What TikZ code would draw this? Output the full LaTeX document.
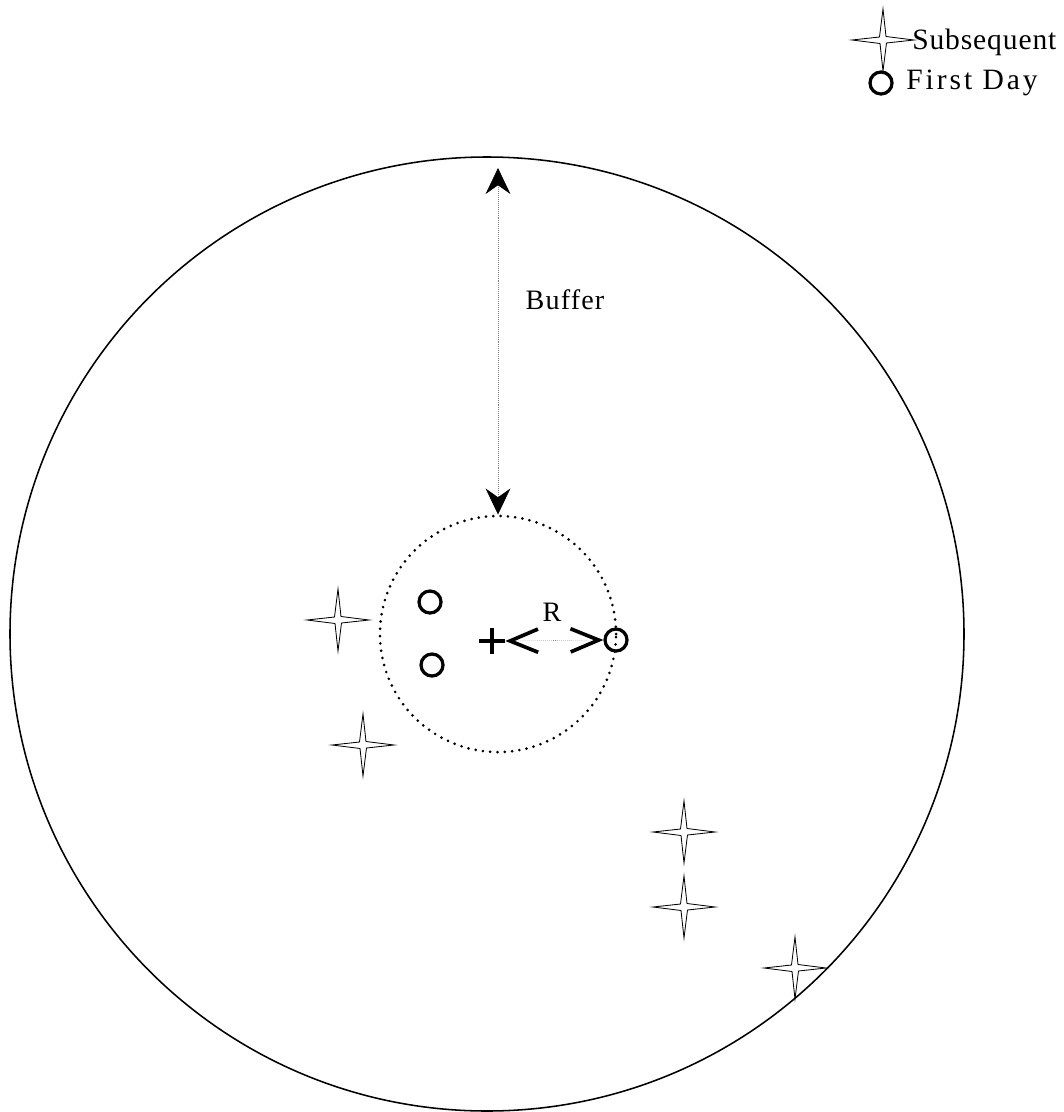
\documentclass[tikz,border=0pt]{standalone}
\usepackage{fontspec}
\setmainfont{Liberation Serif}
\usetikzlibrary{arrows.meta,positioning}

\begin{document}
\begin{tikzpicture}[x=0.025cm, y=-0.025cm, font=\fontsize{20}{24}\selectfont\addfontfeature{LetterSpace=4},
  site/.style={circle, draw, line width=2.3pt, minimum size=0.55cm, inner sep=0pt},
  span/.style={densely dotted, gray, line width=0.4pt},
  sparkle/.pic={\draw[line width=0.6pt] (-31,0) -- (-3.5,-3) -- (0,-31) -- (3,-3.5) -- (31,0)
      -- (3.5,3) -- (0,31) -- (-3,3.5) -- cycle;}]
  \useasboundingbox (0,0) rectangle (1064,1112);

  % study area and core
  \draw[line width=1.1pt] (487,634) circle [radius=477];
  \node[circle, draw, line width=2.1pt, dash pattern=on 0pt off 5.2pt, line cap=round,
        minimum size=5.9cm, inner sep=0pt] (core) at (498,634) {};
  \coordinate (rim) at (498,168);

  % first day sites
  \node[site] (site1) at (430,602) {};
  \node[site] (site2) at (432,665) {};
  \node[site] (edge) at (616,640) {};

  % centre of core
  \node[minimum size=0.65cm, inner sep=0pt] (centre) at (492,641) {};
  \draw[line width=2.6pt] (centre.north) -- (centre.south) (centre.west) -- (centre.east);

  % buffer and radius
  \draw[span, {Stealth[length=0.65cm, width=0.62cm, inset=0.22cm, color=black]}-{Stealth[length=0.65cm, width=0.62cm, inset=0.22cm, color=black]}]
    (rim) -- (core.north);
  \node (buffer) at (565,300) {Buffer};
  \draw[span, {Straight Barb[length=0.7cm, width=0.58cm, line width=2.6pt, color=black]}-{Straight Barb[length=0.7cm, width=0.58cm, line width=2.6pt, color=black]}]
    (centre.east) -- (edge.west);
  \node (radius) at (552,612) {R};

  % subsequent sites
  \foreach \px/\py in {338/620, 363/745, 684/832, 684/907, 795/968}
    \pic at (\px,\py) {sparkle};

  % legend
  \pic at (883,40) {sparkle};
  \node[anchor=west, inner sep=0pt, font=\fontsize{21}{24}\selectfont\addfontfeature{LetterSpace=3}]
    (later) at (912,42) {Subsequent};
  \node[site] (firstmark) at (881,83) {};
  \node[anchor=west, inner sep=0pt, font=\fontsize{21}{24}\selectfont\addfontfeature{LetterSpace=10}]
    (first) at (906,83) {First Day};
\end{tikzpicture}
\end{document}
